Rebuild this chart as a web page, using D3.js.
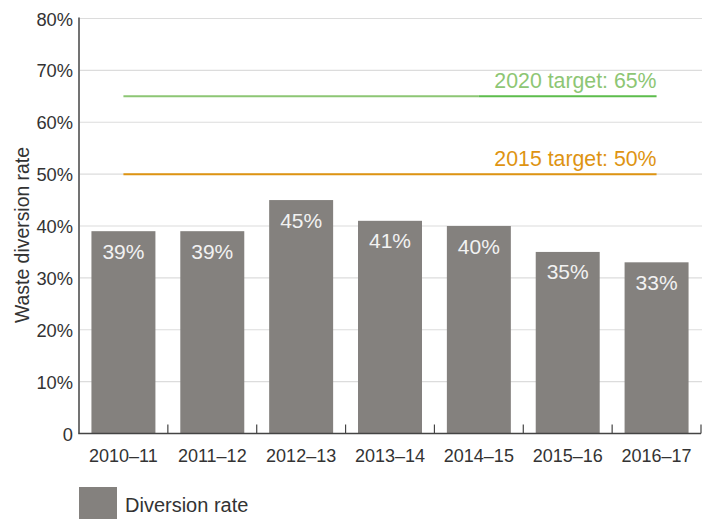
<!DOCTYPE html>
<html><head><meta charset="utf-8">
<script src="https://cdn.jsdelivr.net/npm/d3@7"></script>
<style>
html,body{margin:0;padding:0;background:#fff;}
svg{display:block;font-family:"Liberation Sans",Arial,sans-serif;}
</style></head>
<body>
<svg id="chart" width="706" height="519"></svg>
<script>
const categories = ["2010–11","2011–12","2012–13","2013–14","2014–15","2015–16","2016–17"];
const diversionRate = [39, 39, 45, 41, 40, 35, 33];
const target2020 = 65;
const target2015 = 50;
const targetLabels = ["2020 target: 65%", "2015 target: 50%"];
const yTicks = [0,10,20,30,40,50,60,70,80];
const seriesName = "Diversion rate";
const yTitle = "Waste diversion rate";

(function () {
const svg = d3.select("#chart");
const mLeft = 79, mRight = 701, mTop = 18.5, mBottom = 433.5;

const x = d3.scaleBand().domain(categories).range([mLeft, mRight]).paddingInner(0.28).paddingOuter(0.14);
const y = d3.scaleLinear().domain([0, 80]).range([mBottom, mTop]);

// gridlines
svg.append("g").selectAll("line").data(yTicks.filter(d => d > 0)).join("line")
  .attr("x1", mLeft + 1).attr("x2", 702)
  .attr("y1", d => y(d)).attr("y2", d => y(d))
  .attr("stroke", "#dcdcdc").attr("stroke-width", 1.2);

// bars
svg.append("g").selectAll("rect").data(categories).join("rect")
  .attr("x", d => x(d)).attr("width", x.bandwidth())
  .attr("y", (d, i) => y(diversionRate[i]))
  .attr("height", (d, i) => mBottom - y(diversionRate[i]))
  .attr("fill", "#84817e");

// bar labels
svg.append("g").selectAll("text").data(categories).join("text")
  .attr("x", d => x(d) + x.bandwidth() / 2)
  .attr("y", (d, i) => y(diversionRate[i]) + 27.5)
  .attr("text-anchor", "middle")
  .attr("font-size", 21).attr("fill", "#f2f2f2")
  .text((d, i) => diversionRate[i] + "%");

// target lines
const cFirst = x(categories[0]) + x.bandwidth() / 2;
const cMid = x(categories[4]) + x.bandwidth() / 2;
const cLast = x(categories[categories.length - 1]) + x.bandwidth() / 2;

svg.append("line").attr("x1", cFirst).attr("x2", cMid).attr("y1", y(target2020)).attr("y2", y(target2020))
  .attr("stroke", "#8dc674").attr("stroke-width", 2);
svg.append("line").attr("x1", cMid).attr("x2", cLast).attr("y1", y(target2020)).attr("y2", y(target2020))
  .attr("stroke", "#5dbd4c").attr("stroke-width", 2);
svg.append("line").attr("x1", cFirst).attr("x2", cLast).attr("y1", y(target2015)).attr("y2", y(target2015))
  .attr("stroke", "#de9412").attr("stroke-width", 2);

svg.append("text").attr("x", cLast).attr("y", y(target2020) - 8)
  .attr("text-anchor", "end").attr("font-size", 21.3).attr("fill", "#8dc674")
  .text(targetLabels[0]);
svg.append("text").attr("x", cLast).attr("y", y(target2015) - 8)
  .attr("text-anchor", "end").attr("font-size", 21.3).attr("fill", "#de9412")
  .text(targetLabels[1]);

// y axis
const yAxis = svg.append("g").attr("transform", `translate(${mLeft},0)`)
  .call(d3.axisLeft(y).tickValues(yTicks).tickSize(0).tickPadding(6)
    .tickFormat(d => d === 0 ? "0" : d + "%"));
yAxis.select(".domain").remove();
yAxis.selectAll("text").attr("font-size", 18.3).attr("fill", "#333")
  .attr("font-family", "Liberation Sans, Arial, sans-serif").attr("dy", "0.36em");
svg.append("line").attr("x1", mLeft).attr("x2", mLeft).attr("y1", mTop - 1).attr("y2", mBottom)
  .attr("stroke", "#444").attr("stroke-width", 1.5);

// x axis
svg.append("line").attr("x1", mLeft - 0.75).attr("x2", mRight).attr("y1", mBottom).attr("y2", mBottom)
  .attr("stroke", "#444").attr("stroke-width", 1.5);
svg.append("g").selectAll("line").data(categories).join("line")
  .attr("x1", d => x(d) + x.bandwidth() + x.step() * 0.14)
  .attr("x2", d => x(d) + x.bandwidth() + x.step() * 0.14)
  .attr("y1", mBottom - 9).attr("y2", mBottom)
  .attr("stroke", "#444").attr("stroke-width", 1.2);
svg.append("g").selectAll("text").data(categories).join("text")
  .attr("x", d => x(d) + x.bandwidth() / 2).attr("y", 462)
  .attr("text-anchor", "middle").attr("font-size", 18).attr("fill", "#333")
  .text(d => d);

// y title
svg.append("text").attr("transform", "translate(29,235) rotate(-90)")
  .attr("text-anchor", "middle").attr("font-size", 19.4).attr("fill", "#333")
  .text(yTitle);

// legend
svg.append("rect").attr("x", 79).attr("y", 487).attr("width", 38).attr("height", 34).attr("fill", "#84817e");
svg.append("text").attr("x", 125).attr("y", 512).attr("font-size", 20).attr("fill", "#333").text(seriesName);
})();
</script>
</body></html>
